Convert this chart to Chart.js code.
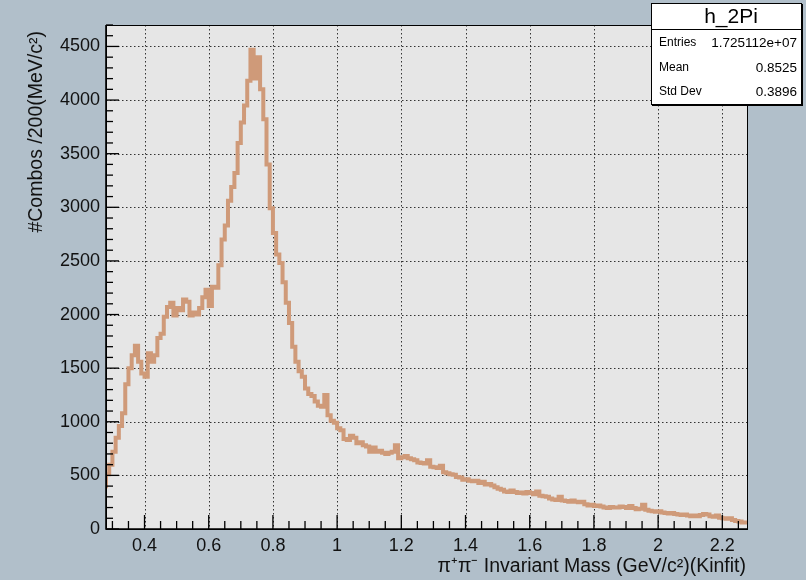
<!DOCTYPE html>
<html>
<head>
<meta charset="utf-8">
<script src="https://cdn.jsdelivr.net/npm/chart.js@4.4.1/dist/chart.umd.min.js"></script>
<style>
  html, body { margin: 0; padding: 0; background: #B1BFCA; }
  canvas { display: block; }
</style>
</head>
<body>
<canvas id="c" width="806" height="580" style="width:806px;height:580px"></canvas>
<script>
// ---- Data ----
const xMin = 0.28;
const xMax = 2.28;
const binWidth = 0.01;
const counts = [
  380, 510, 600, 720, 850, 960, 1080, 1350, 1500, 1620,
  1710, 1560, 1450, 1420, 1640, 1560, 1620, 1780, 1820, 1980,
  2070, 2110, 1990, 2060, 2040, 2140, 2120, 1990, 2020, 2000,
  2060, 2160, 2230, 2080, 2260, 2250, 2460, 2700, 2830, 3060,
  3190, 3320, 3600, 3790, 3950, 4180, 4470, 4200, 4400, 4100,
  3820, 3400, 2990, 2760, 2560, 2480, 2300, 2110, 1920, 1700,
  1560, 1470, 1420, 1310, 1260, 1240, 1190, 1150, 1140, 1250,
  1060, 1010, 990, 940, 920, 840, 830, 870, 850, 800,
  810, 780, 770, 720, 760, 720, 730, 710, 700, 710,
  720, 780, 660, 670, 680, 660, 650, 640, 620, 615,
  610, 640, 580, 575, 570, 590, 530, 520, 510, 505,
  485, 480, 460, 465, 450, 445, 450, 430, 440, 415,
  420, 405, 390, 375, 365, 350, 345, 360, 345, 335,
  340, 330, 345, 335, 325, 350, 310, 305, 300, 285,
  275, 270, 300, 265, 260, 255, 265, 255, 250, 255,
  230, 220, 225, 215, 220, 210, 200, 195, 205, 200,
  200, 210, 205, 195, 215, 195, 185, 190, 225, 180,
  170, 165, 160, 165, 155, 150, 145, 150, 140, 135,
  130, 135, 125, 120, 125, 120, 130, 140, 135, 120,
  115, 125, 105, 100, 95, 100, 85, 75, 70, 60
];
const xTickValues = [0.4, 0.6, 0.8, 1.0, 1.2, 1.4, 1.6, 1.8, 2.0, 2.2];
const xTickLabels = ['0.4', '0.6', '0.8', '1', '1.2', '1.4', '1.6', '1.8', '2', '2.2'];
const yTickValues = [0, 500, 1000, 1500, 2000, 2500, 3000, 3500, 4000, 4500];
const yTickLabels = ['0', '500', '1000', '1500', '2000', '2500', '3000', '3500', '4000', '4500'];
const yMax = 4700;
const xTitle = 'π⁺π⁻ Invariant Mass (GeV/c²)(Kinfit)';
const yTitle = '#Combos /200(MeV/c²)';
const statsName = 'h_2Pi';
const statsLabels = ['Entries', 'Mean', 'Std Dev'];
const statsValues = ['1.725112e+07', '0.8525', '0.3896'];

// ---- Build histogram step points (bin edges) ----
const points = counts.map((c, i) => ({ x: xMin + i * binWidth, y: c }));
points.push({ x: xMax, y: counts[counts.length - 1] });

const FONT = "'Liberation Sans', Arial, Helvetica, sans-serif";

const rootStyle = {
  id: 'rootStyle',
  beforeDraw(chart) {
    const ctx = chart.ctx, a = chart.chartArea;
    ctx.save();
    ctx.fillStyle = '#B1BFCA';
    ctx.fillRect(0, 0, chart.width, chart.height);
    ctx.fillStyle = '#E6E6E6';
    ctx.fillRect(a.left, a.top, a.right - a.left, a.bottom - a.top);
    ctx.restore();
  },
  beforeDatasetsDraw(chart) {
    const ctx = chart.ctx, a = chart.chartArea;
    const xs = chart.scales.x, ys = chart.scales.y;
    ctx.save();
    ctx.strokeStyle = '#333';
    ctx.lineWidth = 1;
    ctx.setLineDash([1.5, 2.5]);
    xTickValues.forEach(v => {
      const px = Math.round(xs.getPixelForValue(v)) + 0.5;
      ctx.beginPath(); ctx.moveTo(px, a.top); ctx.lineTo(px, a.bottom); ctx.stroke();
    });
    yTickValues.forEach(v => {
      if (v === 0) return;
      const py = Math.round(ys.getPixelForValue(v)) + 0.5;
      ctx.beginPath(); ctx.moveTo(a.left, py); ctx.lineTo(a.right, py); ctx.stroke();
    });
    ctx.restore();
  },
  afterDatasetsDraw(chart) {
    const ctx = chart.ctx, a = chart.chartArea;
    const xs = chart.scales.x, ys = chart.scales.y;
    ctx.save();
    // frame
    ctx.strokeStyle = '#000';
    ctx.lineWidth = 1;
    ctx.strokeRect(Math.round(a.left) + 0.5, Math.round(a.top) + 0.5,
                   Math.round(a.right - a.left) - 1, Math.round(a.bottom - a.top));
    ctx.lineWidth = 1.6;
    ctx.beginPath();
    ctx.moveTo(a.left, a.top); ctx.lineTo(a.left, a.bottom); ctx.lineTo(a.right, a.bottom);
    ctx.stroke();
    // x ticks (inside)
    ctx.lineWidth = 1.3;
    for (let k = 0; ; k++) {
      const v = 0.3 + k * 0.05;
      if (v > xMax + 1e-9) break;
      const px = xs.getPixelForValue(v);
      const major = Math.abs(v * 5 - Math.round(v * 5)) < 1e-6;
      ctx.beginPath(); ctx.moveTo(px, a.bottom); ctx.lineTo(px, a.bottom - (major ? 14 : 8)); ctx.stroke();
    }
    // y ticks (inside)
    for (let v = 0; v <= yMax; v += 100) {
      const py = ys.getPixelForValue(v);
      const major = v % 500 === 0;
      ctx.beginPath(); ctx.moveTo(a.left, py); ctx.lineTo(a.left + (major ? 13 : 7), py); ctx.stroke();
    }
    // axis titles
    ctx.fillStyle = '#111';
    ctx.font = '19.5px ' + FONT;
    ctx.textAlign = 'right';
    ctx.textBaseline = 'alphabetic';
    ctx.fillText(xTitle, 746, 572);
    ctx.save();
    ctx.translate(42, 31);
    ctx.rotate(-Math.PI / 2);
    ctx.fillText(yTitle, 0, 0);
    ctx.restore();
    // stats box
    const bx = 651, by = 3, bw = 150, bh = 101;
    ctx.fillStyle = '#fff';
    ctx.fillRect(bx, by, bw, bh);
    ctx.strokeStyle = '#000';
    ctx.lineWidth = 1;
    ctx.strokeRect(bx + 0.5, by + 0.5, bw, bh);
    ctx.lineWidth = 2;
    ctx.beginPath(); ctx.moveTo(bx + 1, by + bh + 1); ctx.lineTo(bx + bw + 1, by + bh + 1); ctx.lineTo(bx + bw + 1, by + 1); ctx.stroke();
    ctx.lineWidth = 1;
    ctx.beginPath(); ctx.moveTo(bx, 29.5); ctx.lineTo(bx + bw, 29.5); ctx.stroke();
    ctx.fillStyle = '#000';
    ctx.font = '21px ' + FONT;
    ctx.textAlign = 'center';
    ctx.textBaseline = 'middle';
    ctx.fillText(statsName, 731, 17);
    const rowY = [43, 68, 92];
    statsLabels.forEach((lab, i) => {
      ctx.font = '12px ' + FONT;
      ctx.textAlign = 'left';
      ctx.fillText(lab, 659, rowY[i]);
      ctx.font = '13.5px ' + FONT;
      ctx.textAlign = 'right';
      ctx.fillText(statsValues[i], 797, rowY[i]);
    });
    ctx.restore();
  }
};

new Chart(document.getElementById('c').getContext('2d'), {
  type: 'line',
  data: {
    datasets: [{
      data: points,
      stepped: 'after',
      borderColor: 'rgb(207,154,121)',
      borderWidth: 4,
      pointRadius: 0,
      fill: false,
      tension: 0
    }]
  },
  options: {
    responsive: false,
    animation: false,
    devicePixelRatio: 1,
    layout: { padding: { left: 0, right: 58, top: 25, bottom: 0 } },
    plugins: { legend: { display: false }, tooltip: { enabled: false }, title: { display: false } },
    scales: {
      x: {
        type: 'linear', min: xMin, max: xMax,
        grid: { display: false, drawTicks: false },
        border: { display: false },
        afterBuildTicks: s => { s.ticks = xTickValues.map(v => ({ value: v })); },
        ticks: {
          callback: (v, i) => xTickLabels[i],
          font: { family: FONT, size: 18 }, color: '#111', padding: 6,
          maxRotation: 0, minRotation: 0, autoSkip: false
        },
        afterFit: s => { s.height = 51; }
      },
      y: {
        type: 'linear', min: 0, max: yMax,
        grid: { display: false, drawTicks: false },
        border: { display: false },
        afterBuildTicks: s => { s.ticks = yTickValues.map(v => ({ value: v })); },
        ticks: {
          callback: (v, i) => yTickLabels[i],
          font: { family: FONT, size: 18 }, color: '#111', padding: 6, autoSkip: false
        },
        afterFit: s => { s.height = s.height; s.width = 106; }
      }
    }
  },
  plugins: [rootStyle]
});
</script>
</body>
</html>
